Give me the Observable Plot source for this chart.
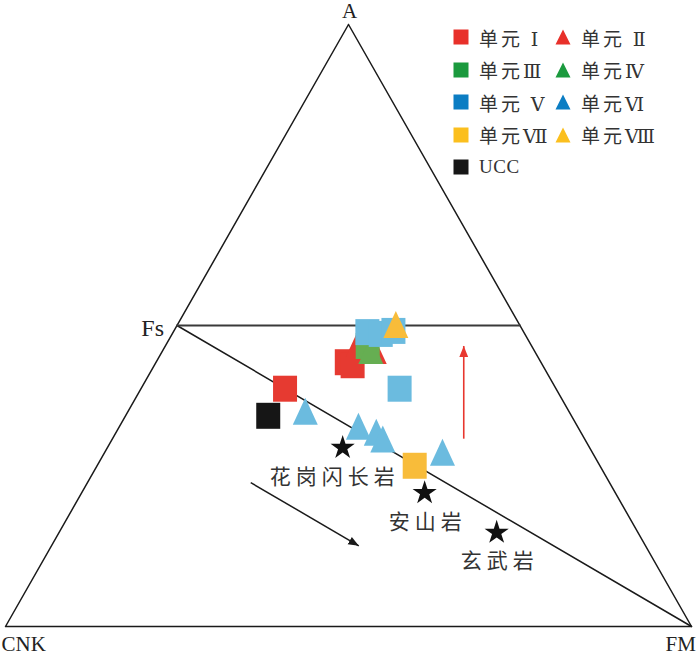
<!DOCTYPE html>
<html><head><meta charset="utf-8">
<script src="https://cdn.jsdelivr.net/npm/d3@7"></script>
<script src="https://cdn.jsdelivr.net/npm/@observablehq/plot@0.6"></script>
<style>
body{margin:0;background:#fff}
#wrap{position:relative;width:700px;height:658px;overflow:hidden}
#legend{position:absolute;left:453px;top:21px;font-family:"Liberation Serif","DejaVu Serif","Noto Sans CJK SC",serif;font-size:19px;color:#333}
.row{display:flex;height:32.5px;align-items:center}
.item{display:flex;align-items:center;width:102px}
.item svg{margin-right:10px;flex:none}
.item span{letter-spacing:3px;white-space:nowrap}
.item span.latin{letter-spacing:0.5px}
</style></head>
<body><div id="wrap"><div id="legend"></div></div>
<script>
// Ternary compositions [A, CNK, FM] in %
const vertexNames = ["A", "CNK", "FM", "Fs"];
const seriesNames = ["单元 Ⅰ", "单元 Ⅱ", "单元Ⅲ", "单元Ⅳ", "单元 Ⅴ", "单元Ⅵ", "单元Ⅶ", "单元Ⅷ", "UCC"];
const seriesShapes = ["square", "triangle", "square", "triangle", "square", "triangle", "square", "triangle", "square"];
const legendColors = ["#e8302a", "#e8302a", "#1b9a3e", "#1b9a3e", "#0b7dc3", "#0b7dc3", "#fbbf1e", "#fbbf1e", "#161616"];
const pointColors = ["#e63a31", "#e63a31", "#66ae52", "#66ae52", "#6bbbdf", "#6bbbdf", "#f8bc3a", "#f8bc3a", "#161616"];

const unit1 = [[39.5, 39.5, 21.0], [43.9, 28.3, 27.8], [43.4, 27.7, 28.9]];
const unit2 = [[46.1, 25.6, 28.3], [45.1, 23.7, 31.2]];
const unit3 = [[46.6, 23.9, 29.5]];
const unit4 = [[45.1, 24.2, 30.7]];
const unit5 = [[48.9, 22.8, 28.3], [48.6, 21.0, 30.4], [49.1, 18.9, 32.0], [39.5, 22.8, 37.7]];
const unit6 = [[35.0, 38.8, 26.2], [32.5, 32.3, 35.2], [31.5, 30.2, 38.3], [30.4, 29.8, 39.8], [28.2, 22.2, 49.6]];
const unit7 = [[26.7, 27.0, 46.3]];
const unit8 = [[49.4, 18.4, 32.2]];
const ucc = [[35.0, 44.2, 20.8]];
const seriesData = [unit1, unit2, unit3, unit4, unit5, unit6, unit7, unit8, ucc];

const rockNames = ["花岗闪长岩", "安山岩", "玄武岩"];
const rockValues = [[29.7, 36.0, 34.3], [22.2, 27.8, 50.0], [15.6, 20.6, 63.8]];

// trend arrows [A, CNK, FM] start -> end
const blackArrow = [[23.9, 52.3, 23.8], [13.4, 41.8, 44.8]];
const redArrow = [[31.2, 17.6, 51.2], [46.6, 9.9, 43.5]];

// frame: triangle vertices and feldspar lines
const frameVertices = [[100, 0, 0], [0, 100, 0], [0, 0, 100], [100, 0, 0]];
const fsJoin = [[50, 50, 0], [0, 0, 100]];
const fsLine = [[50, 50, 0], [50, 0, 50]];

const tx = ([a, c, f]) => (f + a / 2) / 100;
const ty = ([a, c, f]) => a / 100;

const squareSym = {draw(ctx) { ctx.moveTo(-12, -13); ctx.lineTo(12, -13); ctx.lineTo(12, 13); ctx.lineTo(-12, 13); ctx.closePath(); }};
const triSym = {draw(ctx) { ctx.moveTo(0, -18); ctx.lineTo(12.5, 9); ctx.lineTo(-12.5, 9); ctx.closePath(); }};

const points = [];
seriesData.forEach((arr, s) => arr.forEach(v => points.push({s, shape: seriesShapes[s], color: pointColors[s], x: tx(v), y: ty(v)})));

const rocks = rockNames.map((n, i) => ({name: n, x: tx(rockValues[i]), y: ty(rockValues[i])}));

function filledArrow(color) {
  const m = d3.create("svg:marker")
    .attr("viewBox", "-10 -5 10 10").attr("markerWidth", 7).attr("markerHeight", 7)
    .attr("orient", "auto").attr("refX", 0).attr("refY", 0)
    .attr("fill", color).attr("stroke", "none");
  m.append("path").attr("d", "M-10,-4L0,0L-10,4Z");
  return m.node();
}
const arrowRows = (a, color) => ({x1: tx(a[0]), y1: ty(a[0]), x2: tx(a[1]), y2: ty(a[1]), color});

const vlabel = (i, v) => ({name: vertexNames[i], x: tx(v), y: ty(v)});
const serif = '"Liberation Serif", "DejaVu Serif", serif';
const cjk = '"Noto Sans CJK SC", sans-serif';

const chart = Plot.plot({
  width: 700, height: 658,
  marginLeft: 5, marginRight: 9, marginTop: 24, marginBottom: 32,
  x: {domain: [0, 1], axis: null},
  y: {domain: [0, 1], axis: null},
  style: {background: "#fff", overflow: "visible"},
  marks: [
    Plot.line(frameVertices, {x: tx, y: ty, stroke: "#1a1a1a", strokeWidth: 1.5}),
    Plot.line(fsJoin, {x: tx, y: ty, stroke: "#1a1a1a", strokeWidth: 1.5}),
    Plot.line(fsLine, {x: tx, y: ty, stroke: "#3a3a3a", strokeWidth: 2}),
    Plot.link([arrowRows(blackArrow, "#1a1a1a")], {x1: "x1", y1: "y1", x2: "x2", y2: "y2", stroke: "#1a1a1a", strokeWidth: 1.5, markerEnd: filledArrow}),
    Plot.link([arrowRows(redArrow, "#e8372f")], {x1: "x1", y1: "y1", x2: "x2", y2: "y2", stroke: "#e8372f", strokeWidth: 1.6, markerEnd: filledArrow}),
    Plot.dot(points, {x: "x", y: "y", fill: d => d.color, symbol: d => d.shape === "square" ? squareSym : triSym, r: 8}),
    Plot.dot(rocks, {x: "x", y: "y", symbol: "star", r: 7.6, fill: "#111"}),
    Plot.text(rocks.slice(0, 1), {x: "x", y: "y", text: "name", dx: -8, dy: 30, fontSize: 21, fontFamily: cjk, fill: "#333"}),
    Plot.text(rocks.slice(1), {x: "x", y: "y", text: "name", dx: 3, dy: 29, fontSize: 21, fontFamily: cjk, fill: "#333"}),
    Plot.text([vlabel(0, frameVertices[0])], {x: "x", y: "y", text: "name", dy: -13, dx: 1, fontSize: 21, fontFamily: serif, fill: "#222"}),
    Plot.text([vlabel(1, frameVertices[1])], {x: "x", y: "y", text: "name", dx: -4, dy: 18, textAnchor: "start", fontSize: 21, fontFamily: serif, fill: "#222"}),
    Plot.text([vlabel(2, frameVertices[2])], {x: "x", y: "y", text: "name", dx: -26, dy: 18, textAnchor: "start", fontSize: 21, fontFamily: serif, fill: "#222"}),
    Plot.text([vlabel(3, fsJoin[0])], {x: "x", y: "y", text: "name", dx: -13, dy: 3, textAnchor: "end", fontSize: 24, fontFamily: serif, fill: "#222"})
  ]
});
d3.select(chart).selectAll("text")
  .filter(function () { return rockNames.includes(this.textContent); })
  .style("letter-spacing", "5px");
const wrap = document.getElementById("wrap");
wrap.insertBefore(chart, wrap.firstChild);

// legend
const legend = document.getElementById("legend");
const markerSvg = (shape, color) => shape === "square"
  ? `<svg width="16" height="16"><rect x="0.5" y="0.5" width="15" height="15" fill="${color}"/></svg>`
  : `<svg width="16" height="16"><path d="M8,0.5L15.5,15.5L0.5,15.5Z" fill="${color}"/></svg>`;
for (let r = 0; r < 5; r++) {
  const row = document.createElement("div");
  row.className = "row";
  for (let c = 0; c < 2; c++) {
    const i = r * 2 + c;
    if (i >= seriesNames.length) break;
    const it = document.createElement("div");
    it.className = "item";
    const latin = /^[A-Z]+$/.test(seriesNames[i]);
    it.innerHTML = markerSvg(seriesShapes[i], legendColors[i]) + `<span class="${latin ? "latin" : ""}">${seriesNames[i]}</span>`;
    row.appendChild(it);
  }
  legend.appendChild(row);
}
</script>
</body></html>
